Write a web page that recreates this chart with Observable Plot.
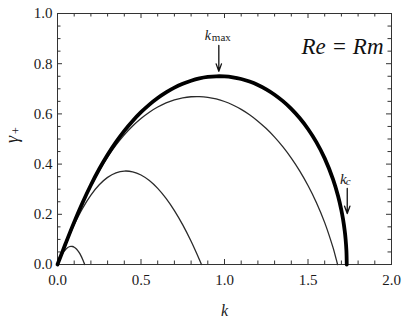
<!DOCTYPE html>
<html>
<head>
<meta charset="utf-8">
<script src="https://cdn.jsdelivr.net/npm/d3@7"></script>
<script src="https://cdn.jsdelivr.net/npm/@observablehq/plot@0.6"></script>
<style>
  html, body { margin: 0; padding: 0; background: #fff; }
  #chart { width: 404px; height: 318px; font-family: "Liberation Serif", serif; }
</style>
</head>
<body>
<div id="chart"></div>
<script>
// Ideal case (thick curve): wavenumber k and growth rate gamma_+
const kIdeal = [0, 0.01, 0.02, 0.05, 0.1, 0.15, 0.2, 0.25, 0.3, 0.35, 0.4, 0.45, 0.5, 0.55, 0.6, 0.65, 0.7, 0.75, 0.8, 0.85, 0.9, 0.95, 1.0, 1.05, 1.1, 1.15, 1.2, 1.25, 1.3, 1.35, 1.4, 1.45, 1.5, 1.55, 1.6, 1.65, 1.68, 1.7, 1.71, 1.72, 1.725, 1.73, 1.732];
const gIdeal = [0, 0.0173, 0.0346, 0.0860, 0.1689, 0.2462, 0.3167, 0.3803, 0.4371, 0.4876, 0.5324, 0.5719, 0.6067, 0.6370, 0.6633, 0.6858, 0.7047, 0.7202, 0.7323, 0.7413, 0.7471, 0.7498, 0.7494, 0.7458, 0.7390, 0.7289, 0.7152, 0.6979, 0.6765, 0.6507, 0.6199, 0.5833, 0.5398, 0.4874, 0.4229, 0.3394, 0.2731, 0.2158, 0.1796, 0.1332, 0.1021, 0.0551, 0];

// Thin curve A (largest thin)
const kA = [0, 0.05, 0.1, 0.15, 0.2, 0.25, 0.3, 0.35, 0.4, 0.45, 0.5, 0.55, 0.6, 0.65, 0.7, 0.75, 0.8, 0.85, 0.9, 0.95, 1.0, 1.05, 1.1, 1.15, 1.2, 1.25, 1.3, 1.35, 1.4, 1.45, 1.5, 1.55, 1.6, 1.65, 1.66, 1.67, 1.677];
const gA = [0, 0.0858, 0.1679, 0.2439, 0.3127, 0.3740, 0.4281, 0.4753, 0.5164, 0.5517, 0.5817, 0.6068, 0.6273, 0.6436, 0.6557, 0.6639, 0.6683, 0.6690, 0.6661, 0.6595, 0.6494, 0.6355, 0.6180, 0.5966, 0.5712, 0.5416, 0.5075, 0.4685, 0.4239, 0.3731, 0.3148, 0.2472, 0.1669, 0.0671, 0.0436, 0.0183, 0];

// Thin curve B (middle)
const kB = [0, 0.05, 0.1, 0.15, 0.2, 0.25, 0.3, 0.35, 0.4, 0.45, 0.5, 0.55, 0.6, 0.65, 0.7, 0.75, 0.8, 0.85, 0.862];
const gB = [0, 0.0835, 0.1589, 0.2237, 0.2767, 0.3178, 0.3471, 0.3651, 0.3724, 0.3694, 0.3567, 0.3345, 0.3033, 0.2633, 0.2147, 0.1577, 0.0923, 0.0188, 0];

// Thin curve C (smallest)
const kC = [0, 0.01, 0.02, 0.03, 0.04, 0.05, 0.06, 0.07, 0.08, 0.09, 0.1, 0.11, 0.12, 0.13, 0.14, 0.15, 0.155, 0.16, 0.1626];
const gC = [0, 0.0163, 0.0306, 0.0428, 0.0530, 0.0610, 0.0669, 0.0707, 0.0723, 0.0717, 0.0689, 0.0638, 0.0565, 0.0470, 0.0352, 0.0212, 0.0133, 0.0048, 0];

// Axis ticks
const xMajor = [0, 0.5, 1.0, 1.5, 2.0];
const xMinor = [0.1, 0.2, 0.3, 0.4, 0.6, 0.7, 0.8, 0.9, 1.1, 1.2, 1.3, 1.4, 1.6, 1.7, 1.8, 1.9];
const yMajor = [0, 0.2, 0.4, 0.6, 0.8, 1.0];
const yMinor = [0.05, 0.1, 0.15, 0.25, 0.3, 0.35, 0.45, 0.5, 0.55, 0.65, 0.7, 0.75, 0.85, 0.9, 0.95];

// Texts
const xLabel = "k";
const yLabel = "γ";
const ySub = "+";
const panelLabel = "Re = Rm";

// Annotations: subscript label, k position, arrow from gamma -> to gamma
const annLabel = ["max", "c"];
const annK = [0.966, 1.735];
const annFrom = [0.873, 0.303];
const annTo = [0.770, 0.203];

const toRows = (ks, gs) => ks.map((k, i) => ({k, g: gs[i]}));
const ideal = toRows(kIdeal, gIdeal);
const thin = [toRows(kA, gA), toRows(kB, gB), toRows(kC, gC)];
const ann = annLabel.map((label, i) => ({label, k: annK[i], from: annFrom[i], to: annTo[i]}));
const annMax = ann.filter(d => d.label === "max");
const annC = ann.filter(d => d.label === "c");

const W = 404, H = 318, mL = 57, mR = 13, mT = 13, mB = 54;
const iw = W - mL - mR, ih = H - mT - mB;
const xDom = [0, 2], yDom = [0, 1];
// tick lengths in pixels converted to data units
const majPx = 5, minPx = 3.5;
const ky = (yDom[1] - yDom[0]) / ih, kx = (xDom[1] - xDom[0]) / iw;
const font = "Liberation Serif";
const ink = "#1a1a1a";
const t = {fontFamily: font, fill: ink};
const tickStyle = {stroke: "#333", strokeWidth: 1};

const chart = Plot.plot({
  width: W, height: H,
  marginLeft: mL, marginRight: mR, marginTop: mT, marginBottom: mB,
  style: {fontFamily: font, background: "#fff", color: ink},
  x: {domain: xDom},
  y: {domain: yDom},
  marks: [
    // inward ticks on all four sides
    Plot.ruleX(xMajor, {x: d => d, y1: yDom[0], y2: yDom[0] + majPx * ky, ...tickStyle}),
    Plot.ruleX(xMinor, {x: d => d, y1: yDom[0], y2: yDom[0] + minPx * ky, ...tickStyle}),
    Plot.ruleX(xMajor, {x: d => d, y1: yDom[1], y2: yDom[1] - majPx * ky, ...tickStyle}),
    Plot.ruleX(xMinor, {x: d => d, y1: yDom[1], y2: yDom[1] - minPx * ky, ...tickStyle}),
    Plot.ruleY(yMajor, {y: d => d, x1: xDom[0], x2: xDom[0] + majPx * kx, ...tickStyle}),
    Plot.ruleY(yMinor, {y: d => d, x1: xDom[0], x2: xDom[0] + minPx * kx, ...tickStyle}),
    Plot.ruleY(yMajor, {y: d => d, x1: xDom[1], x2: xDom[1] - majPx * kx, ...tickStyle}),
    Plot.ruleY(yMinor, {y: d => d, x1: xDom[1], x2: xDom[1] - minPx * kx, ...tickStyle}),
    Plot.frame({stroke: "#333", strokeWidth: 1}),
    Plot.axisX(xMajor, {tickSize: 0, tickPadding: 10, tickFormat: d3.format(".1f"), fontSize: 15, label: null, ...t}),
    Plot.axisY(yMajor, {tickSize: 0, tickPadding: 5, tickFormat: d3.format(".1f"), fontSize: 15, label: null, ...t}),
    // curves
    ...thin.map(rows => Plot.line(rows, {x: "k", y: "g", curve: "catmull-rom", stroke: "#2a2a2a", strokeWidth: 1.3})),
    Plot.line(ideal, {x: "k", y: "g", curve: "catmull-rom", stroke: "#000", strokeWidth: 3.8}),
    // arrows
    Plot.arrow(ann, {x1: "k", x2: "k", y1: "from", y2: "to", stroke: "#111", strokeWidth: 1.3, headLength: 9, headAngle: 40}),
    // annotation labels
    Plot.text(annMax, {x: "k", y: "from", text: () => "k", fontStyle: "italic", fontSize: 14, textAnchor: "middle", lineAnchor: "bottom", dx: -11, dy: -5, ...t}),
    Plot.text(annMax, {x: "k", y: "from", text: "label", fontSize: 11, textAnchor: "start", lineAnchor: "bottom", dx: -7, dy: -4, ...t}),
    Plot.text(annC, {x: "k", y: "from", text: () => "k", fontStyle: "italic", fontSize: 15, textAnchor: "middle", lineAnchor: "bottom", dx: -4, dy: -4, ...t}),
    Plot.text(annC, {x: "k", y: "from", text: "label", fontStyle: "italic", fontSize: 11, textAnchor: "start", lineAnchor: "bottom", dx: -1.5, dy: -3, ...t}),
    // panel label
    Plot.text([panelLabel], {frameAnchor: "top-right", text: d => d, textAnchor: "end", lineAnchor: "bottom", dx: -8, dy: 40, fontStyle: "italic", fontSize: 23, ...t, fill: "#111"}),
    // axis labels
    Plot.text([xLabel], {frameAnchor: "bottom", text: d => d, lineAnchor: "bottom", dy: 51, fontStyle: "italic", fontSize: 16, ...t}),
    Plot.text([yLabel], {frameAnchor: "left", text: d => d, rotate: -90, dx: -45, dy: 4, fontStyle: "italic", fontSize: 18, ...t}),
    Plot.text([ySub], {frameAnchor: "left", text: d => d, rotate: -90, dx: -41, dy: -5, fontSize: 12, ...t})
  ]
});
// force the serif family directly on every text element
d3.select(chart).attr("font-family", font).style("font-family", "'Liberation Serif', serif");
d3.select(chart).selectAll("g").filter(function () { return this.hasAttribute("font-family"); })
  .attr("font-family", font);
d3.select(chart).selectAll("text")
  .attr("font-family", font)
  .style("font-family", "'Liberation Serif', serif");
document.getElementById("chart").append(chart);
</script>
</body>
</html>
